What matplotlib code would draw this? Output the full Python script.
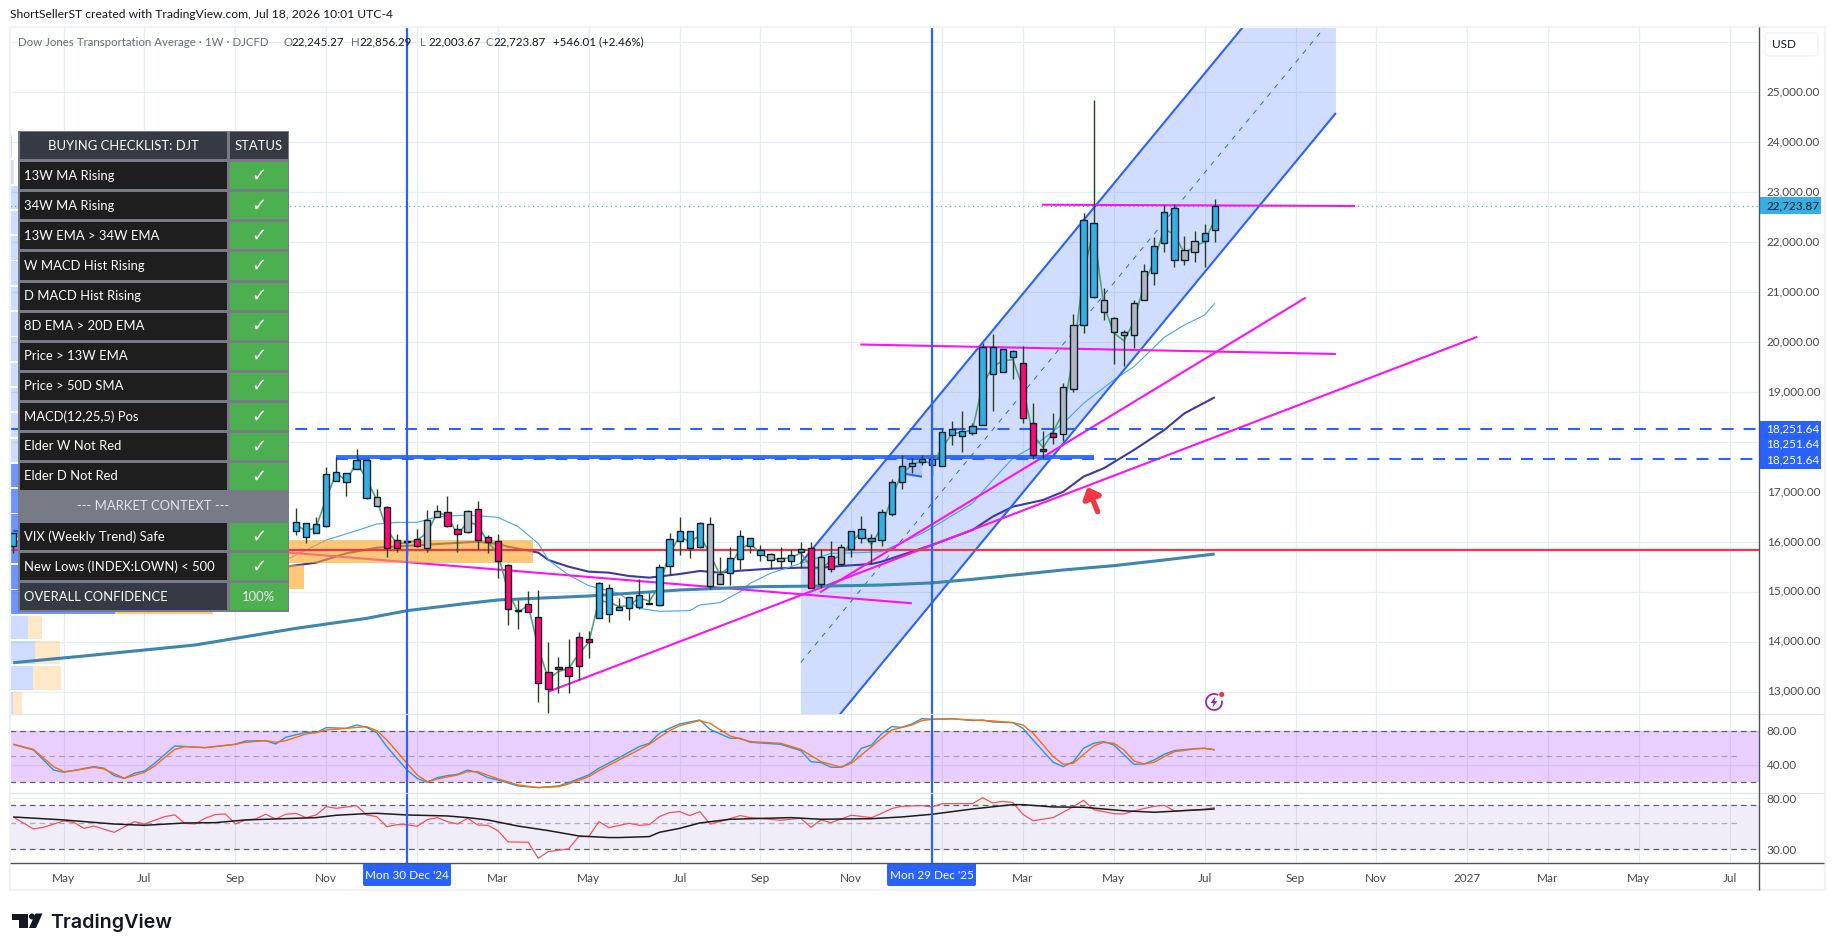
import matplotlib
matplotlib.use("Agg")
import matplotlib.pyplot as plt
from matplotlib.patches import Rectangle, Circle, Polygon, FancyBboxPatch, Arc
from matplotlib.ticker import NullFormatter, NullLocator
from matplotlib.transforms import ScaledTranslation

plt.rcParams["font.family"] = ["Lato", "DejaVu Sans"]
plt.rcParams["lines.scale_dashes"] = False
plt.rcParams["lines.solid_capstyle"] = "butt"

# weekly candles, week 0 is Mon 30 Dec '24
week = [-39] + list(range(-11, 81))
body_top = [16172,
            16392, 16372, 16352, 17353, 17406, 17373, 17633, 17633, 16893, 16692, 16032,
            16020, 16052, 16432, 16612, 16592, 16252, 16612, 16652, 16105, 16012,
            15532, 14630, 14751, 14491, 13404, 13504, 13504, 14091, 14051, 15172,
            15072, 14691, 14891, 14931, 14776, 15492, 16052, 16213, 16213, 16373,
            16353, 15352, 15672, 16112, 16072, 15832, 15752, 15672, 15732, 15852,
            15872, 15692, 15712, 15892, 16213, 16253, 16072, 16593, 17193, 17514,
            17574, 17654, 17654, 18194, 18254, 18214, 18314, 19896, 19896, 19856,
            19816, 19575, 18374, 17854, 18174, 19095, 20336, 22437, 22377, 20836,
            20476, 20195, 20776, 21416, 21917, 22597, 22677, 21837, 22017, 22177, 22724]
body_bot = [15925,
            16212, 16105, 16172, 16325, 17226, 17193, 17453, 16886, 16712, 15885, 15872,
            16005, 15918, 15872, 16492, 16312, 16152, 16192, 16032, 15992, 15611,
            14651, 14620, 14591, 13170, 13050, 13450, 13324, 13510, 14004, 14471,
            14551, 14631, 14671, 14691, 14766, 14731, 15512, 16012, 15872, 15892,
            15112, 15152, 15372, 15652, 15912, 15732, 15632, 15612, 15612, 15792,
            15072, 15152, 15452, 15552, 15852, 16072, 16012, 16032, 16553, 17193,
            17514, 17594, 17534, 17514, 18134, 18114, 18174, 18334, 19355, 19395,
            19695, 18474, 17734, 17814, 18094, 18154, 19055, 20336, 20896, 20596,
            20195, 20135, 20135, 20836, 21376, 21977, 21637, 21637, 21797, 22017, 22245]
wick_hi = [16172,
           16672, 16372, 16506, 17506, 17693, 17373, 17853, 17633, 17059, 16719, 16159,
           16159, 16259, 16632, 16739, 16919, 16359, 16632, 16812, 16139, 16159,
           15552, 14838, 15018, 15038, 14004, 13691, 14051, 14191, 14218, 15192,
           15158, 14871, 14905, 15252, 14972, 15552, 16173, 16493, 16213, 16393,
           16493, 15692, 15892, 16233, 16072, 15932, 15772, 15892, 15852, 15992,
           15992, 15852, 16012, 15952, 16213, 16513, 16153, 16653, 17253, 17734,
           17674, 17734, 17734, 18274, 18414, 18615, 18374, 19976, 20156, 19856,
           19836, 19916, 18775, 18214, 18575, 19175, 20556, 22584, 24846, 21076,
           20509, 20242, 20843, 21563, 22097, 22737, 22758, 22117, 22217, 22357, 22856]
wick_lo = [15772,
           16139, 15985, 16172, 16292, 17226, 16926, 17453, 16859, 16712, 15705, 15805,
           15738, 15905, 15805, 16492, 16292, 15805, 16172, 15858, 15772, 15271,
           14338, 14258, 14591, 12803, 12570, 12983, 12983, 13237, 13684, 14471,
           14391, 14631, 14438, 14651, 14751, 14718, 15332, 15746, 15685, 15872,
           15058, 15152, 15132, 15459, 15772, 15612, 15452, 15472, 15532, 15472,
           15072, 15072, 15392, 15532, 15692, 15972, 15552, 15912, 16513, 17053,
           17373, 17534, 17340, 17514, 17934, 17794, 18134, 18334, 18628, 19395,
           19255, 18374, 17654, 17674, 17954, 18014, 18995, 20175, 20876, 20442,
           19562, 19522, 19889, 20836, 21136, 21797, 21497, 21537, 21597, 21497, 22004]
candle_kind = ("b" + "bbbbbbbb" + "g" + "pppp" + "gg" + "pp" + "g" + "ppp" + "ppppppppp"
               + "bbbbbbbbbbb" + "gg" + "bbbb" + "gg" + "bb" + "pgpg" + "bbbbbbbbbbbbbbbbb"
               + "pppp" + "gg" + "bb" + "ggggg" + "bbb" + "gg" + "bb")
price_line = [16010,
              16354, 16208, 16300, 16869, 17388, 17216, 17598, 17253, 16844, 16250, 15967,
              15980, 16034, 16185, 16584, 16529, 16142, 16402, 16338, 16002, 15763,
              15018, 14587, 14738, 13875, 13257, 13407, 13465, 13757, 13989, 14826,
              14793, 14706, 14726, 14881, 14815, 15123, 15767, 16116, 15996, 16132,
              15754, 15337, 15517, 15864, 15957, 15777, 15652, 15662, 15682, 15777,
              15502, 15442, 15642, 15732, 15992, 16202, 15947, 16297, 16878, 17373,
              17534, 17629, 17565, 17873, 18184, 18184, 18249, 19135, 19509, 19626,
              19651, 19085, 18134, 17889, 18199, 18610, 19736, 21383, 22249, 20738,
              20186, 20024, 20411, 21163, 21632, 22278, 22142, 21782, 21907, 22012, 22457]

ma_thin_w = [-12, -8, -5, -3, -1, 1, 3, 6, 9, 11, 13, 14, 16, 18, 21, 23, 25, 28, 29, 31, 33, 34, 36, 39, 42, 45,
             47, 51, 52, 56, 58, 60, 62, 65, 67, 70, 72, 75, 77, 79, 80]
ma_thin = [15638, 16038, 16225, 16359, 16392, 16392, 16506, 16539, 16493, 16306, 15972, 15639, 15338, 15125, 14971,
           14671, 14611, 14625, 14738, 14785, 15005, 15172, 15372, 15572, 15772, 15786,
           15806, 16172, 16285, 16773, 17240, 17674, 17907, 18374, 18775, 19242, 19509, 20096, 20343, 20543, 20776]
ma_mid_w = [-39, -12, -9, -6, -3, 3, 7, 9, 10, 13, 14, 16, 18, 20, 22, 24, 27, 29, 31, 33, 36, 39, 41, 43, 46, 47,
            50, 52, 56, 58, 60, 63, 65, 67, 69, 72, 75, 77, 80]
ma_mid = [16226, 15505, 15585, 15772, 15885, 15958, 16005, 15959, 15906, 15786, 15639, 15505, 15405, 15385, 15318,
          15285, 15358, 15419, 15385, 15425, 15465, 15485, 15485, 15519, 15559, 15605,
          15805, 15940, 16239, 16506, 16706, 16840, 17007, 17307, 17474, 17841, 18241, 18575, 18895]
ma_long_w = [-39, -32, -26, -21, -17, -11, -4, 0, 6, 9, 18, 27, 35, 44, 47, 52, 56, 65, 70, 75, 80]
ma_long = [13583, 13717, 13837, 13937, 14070, 14270, 14471, 14624, 14771, 14838, 14918, 15038, 15105, 15125, 15138,
           15180, 15252, 15439, 15525, 15639, 15759]

# volume profile rows, bottom up: low price of the first row, row size, up and down volume
vp_low = 12535
vp_step = 506.4
vp_up = [0.3, 2.3, 2.5, 1.8, 10.4, 16, 22, 15, 9, 6, 3, 3, 3, 3, 3, 3, 3, 3, 3, 3, 3, 0.3, 0.16, 0.0]
vp_down = [0.9, 2.8, 2.5, 1.4, 9.7, 13.1, 29.8, 10, 7, 5, 2, 2, 2, 2, 2, 2, 2, 2, 2, 2, 2, 0.1, 0.0, 0.1]
vp_value_area = [4, 5, 6, 7, 8, 9]

# stochastic pane
stoch_k_w = [-39, -37, -35, -34, -31, -30, -29, -28, -27, -26, -25, -23, -20, -17, -16, -14, -13, -12, -10, -9, -8,
             -6, -5, -4, -3, -2, 0, 1, 2, 3, 4, 5, 6, 7, 8, 9, 11, 13, 15, 16, 18, 19, 21, 23, 24, 25, 26, 27, 29,
             30, 32, 33, 34, 37, 39, 40, 41, 42, 43, 44, 45, 46, 47, 48, 49, 50, 51, 52, 54, 56, 57, 58, 60, 61,
             62, 64, 65, 66, 67, 68, 69, 70, 72, 73, 74, 75, 76, 78, 79, 80]
stoch_k = [64.3, 57.7, 34.1, 31.4, 38.1, 36.1, 27.5, 24.3, 30.2, 33, 42, 62.4, 60.4, 64.3, 68.2, 68.6, 64.7, 72.6, 78.4,
           78, 83.9, 83.1, 87, 84.3, 78, 61.6, 34.1, 24.3, 19.6, 25.1, 27.5, 29, 34.1, 31, 25.1, 22.4, 15.3, 13.4, 15.3,
           19.2, 28.3, 36.1, 48.6, 61.6, 65.5, 77.3, 83.1, 88.2, 92.9, 82, 71.4, 71.4, 66.7, 64.3, 56.9, 43.9, 42.8,
           37.3, 37.3, 43.9, 59.6, 63.5, 76.5, 85.1, 84.3, 88.2, 94.5, 93.7, 94.5, 92.2, 92.9, 90.6, 89.8, 83.1,
           69.4, 43.2, 38.1, 43.9, 59.6, 65.5, 67.5, 63.5, 40.8, 41.2, 45.9, 52.6, 56.9, 59.2, 59.6, 57.7]
stoch_d_w = [-39, -37, -35, -34, -33, -31, -30, -28, -26, -25, -23, -22, -20, -17, -16, -14, -13, -12, -10, -9, -8, -6,
             -4, -3, -2, 0, 1, 2, 3, 5, 6, 7, 9, 11, 13, 15, 16, 18, 19, 21, 24, 25, 26, 27, 29, 30, 32, 34, 37, 39,
             41, 43, 44, 46, 48, 50, 51, 52, 54, 56, 58, 60, 61, 62, 64, 65, 66, 68, 69, 70, 71, 72, 73, 74, 75, 76,
             78, 79, 80]
stoch_d = [64.3, 58.4, 38, 32.2, 33.4, 37.3, 35.3, 24.3, 31.4, 38.8, 58.4, 61.6, 60.4, 64.3, 66.7, 68.6, 66.7, 68.6,
           76.5, 78, 81.2, 83.1, 85.1, 80.4, 69.4, 42, 28.3, 20.4, 23.6, 28.3, 32.2, 32.2, 23.6, 16.5, 13.4, 14.5, 17.7,
           26.3, 33.4, 45.9, 64.3, 72.6, 80.4, 86.3, 92.2, 89, 74.1, 67.5, 65.5, 58.4, 43.9, 37.3, 42, 61.6, 81.2, 87,
           92.2, 93.7, 94.1, 92.9, 91.8, 89.8, 87, 77.3, 49.8, 40.8, 42, 62.4, 66.7, 65.5, 57.7, 44.7, 41.2, 43.2,
           49.8, 55.7, 58.8, 59.6, 58]

# RSI pane
rsi_w = [-39, -37, -36, -34, -33, -32, -31, -29, -27, -26, -24, -23, -22, -21, -20, -19, -18, -17, -16, -15, -14, -13,
         -12, -11, -10, -9, -8, -7, -5, -4, -3, -2, -1, 0, 1, 2, 3, 4, 5, 6, 7, 8, 9, 10, 12, 13, 14, 16, 17, 18, 19,
         20, 21, 22, 23, 24, 25, 26, 27, 28, 29, 30, 31, 33, 34, 37, 39, 40, 41, 42, 44, 46, 47, 48, 49, 51, 52, 53,
         54, 56, 57, 58, 59, 60, 61, 62, 64, 66, 67, 68, 70, 71, 72, 74, 75, 76, 79, 80]
rsi = [55.9, 44.4, 45.8, 51.8, 50.4, 44.9, 46.9, 41.6, 51.1, 48.8, 56.3, 58.1, 49.5, 48.8, 54.5, 58.5, 59.3, 48.8, 52.8,
       53.8, 58.9, 53.8, 58.9, 60, 55.2, 58.1, 68.2, 66.1, 69.6, 58.1, 56.3, 46.4, 48.2, 48.2, 46.7, 53.1, 55.2, 51.1,
       48.8, 54.5, 47.9, 47.6, 43, 34.6, 34.4, 25.2, 28.7, 30.2, 38.3, 38.3, 51.1, 45.5, 47.5, 49.5, 47.6, 48.2, 56.3,
       60.8, 62, 57.4, 62, 48.8, 51.1, 57.4, 55.2, 52.5, 54.5, 45.8, 52.8, 50.1, 57.8, 55.2, 60, 65.7, 68.7, 69.6, 67.8,
       72.3, 72.3, 72.3, 81.1, 73.2, 75.6, 73.8, 58.9, 52, 55.2, 68.2, 77.1, 64.4, 59.6, 59.3, 62.8, 68.7, 70, 62.8,
       64.8, 67]
rsi_ma_w = [-39, -34, -29, -26, -22, -19, -16, -9, -7, -4, -3, 0, 4, 6, 8, 11, 14, 17, 20, 21, 24, 25, 27, 29, 32, 38,
            41, 46, 49, 52, 56, 60, 61, 64, 67, 71, 74, 80]
rsi_ma = [55.9, 52.8, 48.8, 47.6, 49.8, 50.1, 52.8, 55.2, 57.8, 59.6, 60, 58.1, 57, 55.2, 52.8, 46.9, 43, 38.8, 37.6,
          37.6, 38.3, 41.6, 44.9, 49.8, 53.5, 55.2, 53.5, 54.1, 55.9, 58.9, 65.2, 70.9, 70.9, 67.8, 67.4, 63, 61.2, 65.2]

price_ticks = [13000, 14000, 15000, 16000, 17000, 18000, 19000, 20000, 21000, 22000, 23000, 24000, 25000, 26000]
price_labels = ["13,000.00", "14,000.00", "15,000.00", "16,000.00", "17,000.00", "18,000.00", "19,000.00",
                "20,000.00", "21,000.00", "22,000.00", "23,000.00", "24,000.00", "25,000.00", ""]
month_weeks = [-34, -26, -17, -8, 1, 9, 18, 27, 35, 44, 53, 61, 70, 79, 88, 96, 105, 113, 122, 131]
month_labels = ["May", "Jul", "Sep", "Nov", "", "Mar", "May", "Jul", "Sep", "Nov", "", "Mar", "May", "Jul",
                "Sep", "Nov", "2027", "Mar", "May", "Jul"]
marker_weeks = [0, 52]

last_close = 22723.87
red_level = 15838
dash_high = 18261
dash_low = 17660
base_level = 17693

# drawing tools: (week, price) end points
channel_upper = [(39, 15578), (92, 28564)]
channel_lower = [(39, 11600), (92, 24586)]
channel_mid = [(39, 13589), (90.9, 26307)]
magenta_lines = [
    [(62.9, 22750), (93.9, 22724)],
    [(44.9, 19952), (92, 19762)],
    [(14, 13002), (106, 20105)],
    [(40.9, 14992), (89, 20889)],
    [(-12, 15793), (50, 14772)],
]
base_line = [(-7, base_level), (68, base_level)]
wedge = [(49, 17656), (51, 17656), (51, 17306), (49, 17374)]
arrow_tail = (68.4, 16605)
arrow_tip = (67.4, 17100)

checklist = ["13W MA Rising", "34W MA Rising", "13W EMA > 34W EMA", "W MACD Hist Rising", "D MACD Hist Rising",
             "8D EMA > 20D EMA", "Price > 13W EMA", "Price > 50D SMA", "MACD(12,25,5) Pos", "Elder W Not Red",
             "Elder D Not Red", "--- MARKET CONTEXT ---", "VIX (Weekly Trend) Safe", "New Lows (INDEX:LOWN) < 500",
             "OVERALL CONFIDENCE"]

W, H = 1835, 951
fig = plt.figure(figsize=(W / 100, H / 100), dpi=100, facecolor="white")


def pane(top, bottom):
    return fig.add_axes([10 / W, 1 - bottom / H, (1759 - 10) / W, (bottom - top) / H])


GRID = "#e6edf3"
TICK = "#4a4a4a"
BLUE = "#2962ff"
MAGENTA = "#fb12f5"

ax = pane(27, 714.3)
ax2 = pane(714.3, 793.3)
ax3 = pane(793.3, 863.3)
for a in (ax, ax2, ax3):
    a.set_xlim(-39.32, 133.9)
    a.set_xticks(month_weeks)
    a.set_xticklabels([])
    a.grid(True, color=GRID, lw=0.9)
    a.set_axisbelow(True)
    a.tick_params(length=0, labelsize=8.5, labelcolor=TICK, pad=5.5)
    a.yaxis.tick_right()
    for s in a.spines.values():
        s.set_visible(False)
    for w in marker_weeks:
        a.axvline(w, color=BLUE, lw=1.6, zorder=6)

# main pane
ax.set_ylim(12550, 26307)
ax.set_yticks(price_ticks)
ax.set_yticklabels(price_labels)
lift = ScaledTranslation(0, 1.5 / 100, fig.dpi_scale_trans)
for lab in ax.get_yticklabels():
    lab.set_transform(lab.get_transform() + lift)

# volume profile, left edge
for n, (up, down) in enumerate(zip(vp_up, vp_down)):
    low = vp_low + n * vp_step
    strong = n in vp_value_area
    ax.barh(low, up, height=vp_step * 0.93, left=-39.32, align="edge",
            color=BLUE, alpha=0.68 if strong else 0.22, zorder=3, lw=0)
    ax.barh(low, down, height=vp_step * 0.93, left=-39.32 + up, align="edge",
            color="#ffa726", alpha=0.62 if strong else 0.25, zorder=3, lw=0)

# channel
ax.add_patch(Polygon([channel_upper[0], channel_upper[1], channel_lower[1], channel_lower[0]],
                     closed=True, facecolor=BLUE, alpha=0.21, lw=0, zorder=1))
ax.plot(*zip(*channel_upper), color=BLUE, lw=1.5, zorder=2.2)
ax.plot(*zip(*channel_lower), color=BLUE, lw=1.5, zorder=2.2)
ax.plot(*zip(*channel_mid), color=BLUE, lw=0.7, dashes=(3.6, 4.4), zorder=2.2)

# moving averages
ax.plot(ma_long_w, ma_long, color="#3d86ad", lw=2.2, zorder=3.5)
ax.plot(ma_mid_w, ma_mid, color="#3f3a9e", lw=1.5, zorder=2)
ax.plot(ma_thin_w, ma_thin, color="#42a5f5", lw=0.8, zorder=2)

for seg in magenta_lines:
    ax.plot(*zip(*seg), color=MAGENTA, lw=1.5, zorder=2.4)

ax.add_patch(Polygon(wedge, closed=True, facecolor=BLUE, alpha=0.18, lw=0, zorder=2.5))
ax.plot([wedge[3][0], wedge[2][0]], [wedge[3][1], wedge[2][1]], color=BLUE, lw=1.5, zorder=2.5)

# levels
ax.axhline(red_level, color="#f23645", lw=1.6, zorder=4)
ax.axhline(dash_high, color=BLUE, lw=1.5, dashes=(8.6, 7.2), zorder=4)
ax.plot([base_line[0][0], 133.9], [dash_low, dash_low], color=BLUE, lw=1.5, dashes=(8.6, 7.2), zorder=4)
ax.plot(*zip(*base_line), color=BLUE, lw=2.8, alpha=0.92, zorder=4)
ax.axhline(last_close, color="#35b0e6", lw=0.9, dashes=(0.8, 2.5), zorder=1.5)

ax.annotate("", xy=arrow_tip, xytext=arrow_tail, zorder=7,
            arrowprops=dict(arrowstyle="-|>,head_length=0.6,head_width=0.55", color="#f23645", lw=3.8,
                            shrinkA=0, shrinkB=0))

# candles
kind_color = {"b": "#35aee2", "p": "#ff0a72", "g": "#b2b5be"}
ax.plot(week[1:], price_line[1:], color="#4f9f72", lw=1.2, alpha=0.95, zorder=4.5)
ax.vlines(week, wick_lo, wick_hi, color="#2a3f1e", lw=1.0, zorder=5)
ax.bar(week, [t - b for t, b in zip(body_top, body_bot)], bottom=body_bot, width=0.62,
       color=[kind_color[k] for k in candle_kind], edgecolor="#0c1f2a", lw=1.0, zorder=5.5)

# stochastic pane
ax2.set_ylim(6.7, 99.6)
ax2.set_yticks([40, 80])
ax2.set_yticklabels(["40.00", "80.00"])
ax2.axhspan(20, 80, color="#9c27ff", alpha=0.22, lw=0, zorder=1)
ax2.axhline(80, color="#5d606b", lw=0.9, dashes=(4, 3), zorder=2)
ax2.axhline(20, color="#5d606b", lw=0.9, dashes=(4, 3), zorder=2)
ax2.plot([-39.32, 132], [50, 50], color="#787b86", alpha=0.55, lw=0.9, dashes=(4, 3), zorder=2)
ax2.plot(stoch_k_w, stoch_k, color="#2196f3", lw=1.0, zorder=3)
ax2.plot(stoch_d_w, stoch_d, color="#ff6d00", lw=1.0, zorder=3)

# RSI pane
ax3.set_yscale("log")
ax3.set_ylim(22.9, 88.2)
ax3.yaxis.set_minor_locator(NullLocator())
ax3.yaxis.set_minor_formatter(NullFormatter())
ax3.set_yticks([30, 80])
ax3.set_yticklabels(["30.00", "80.00"])
ax3.axhspan(30, 70, color="#7e57c2", alpha=0.1, lw=0, zorder=1)
ax3.axhline(70, color="#5d606b", lw=0.9, dashes=(4, 3), zorder=2)
ax3.axhline(30, color="#5d606b", lw=0.9, dashes=(4, 3), zorder=2)
ax3.plot([-39.32, 132], [50, 50], color="#787b86", alpha=0.55, lw=0.9, dashes=(4, 3), zorder=2)
ax3.fill_between(rsi_w, rsi, 70, where=[v > 70 for v in rsi], interpolate=True, color="#4caf50", alpha=0.15, lw=0)
ax3.plot(rsi_w, rsi, color="#f7525f", lw=0.9, zorder=3)
ax3.plot(rsi_ma_w, rsi_ma, color="#1c1c1c", lw=1.1, zorder=3)
ax3.set_xticklabels(month_labels)
ax3.tick_params(axis="x", pad=7)

# everything that sits on the chart in screen pixels
ov = fig.add_axes([0, 0, 1, 1], facecolor="none", zorder=20)
ov.set_xlim(0, W)
ov.set_ylim(H, 0)
ov.axis("off")

ov.add_patch(Rectangle((10, 27), 1815, 863, fill=False, edgecolor="#f0f3f5", lw=1.6))
ov.plot([10, 1824], [714.3, 714.3], color="#e0e3eb", lw=0.9)
ov.plot([10, 1824], [793.3, 793.3], color="#e0e3eb", lw=0.9)
ov.plot([10, 1824], [863.3, 863.3], color="#50535e", lw=1.0)
ov.plot([1759, 1759], [27, 890], color="#50535e", lw=1.0)

ov.text(10, 15, "ShortSellerST created with TradingView.com, Jul 18, 2026 10:01 UTC-4",
        fontsize=8.7, color="#131722", va="center")
GRAY = "#6a6d78"
DARK = "#131722"
ov.text(18, 42, "Dow Jones Transportation Average \u00b7 1W \u00b7 DJCFD", fontsize=8.3, color=GRAY, va="center")
for x, letter, val in [(283, "O", "22,245.27"), (351, "H", "22,856.29"), (420, "L", "22,003.67"), (485, "C", "22,723.87")]:
    ov.text(x, 42, letter, fontsize=8.3, color=GRAY, va="center")
    ov.text(x + 8, 42, val, fontsize=8.3, color=DARK, va="center")
ov.text(553, 42, "+546.01 (+2.46%)", fontsize=8.3, color=DARK, va="center")

# checklist table
tx0, tx1, tx2 = 18, 228, 289
ty = 130.7
rh = 30.06
BORDER = "#787b86"
ov.add_patch(Rectangle((tx0, ty), tx2 - tx0, rh * 16, facecolor=BORDER, lw=0))


def cell(x0, x1, y0, color):
    ov.add_patch(Rectangle((x0 + 1.5, y0 + 1.5), x1 - x0 - 3, rh - 3, facecolor=color, lw=0))


cell(tx0, tx1, ty, "#363a45")
cell(tx1, tx2, ty, "#363a45")
ov.text((tx0 + tx1) / 2, ty + rh / 2, "BUYING CHECKLIST: DJT", color="white", ha="center", va="center", fontsize=9.4)
ov.text((tx1 + tx2) / 2, ty + rh / 2, "STATUS", color="white", ha="center", va="center", fontsize=9.4)
for n, label in enumerate(checklist):
    y0 = ty + rh * (n + 1)
    if label.startswith("---"):
        ov.text((tx0 + tx2) / 2, y0 + rh / 2, label, color="#e0e3eb", ha="center", va="center", fontsize=9.4)
        continue
    last = label == "OVERALL CONFIDENCE"
    cell(tx0, tx1, y0, "#363a45" if last else "#1e1e1e")
    cell(tx1, tx2, y0, "#4caf50")
    ov.text(tx0 + 6, y0 + rh / 2, label, color="white", ha="left", va="center", fontsize=9.4)
    if last:
        ov.text((tx1 + tx2) / 2, y0 + rh / 2, "100%", color="#eef0f3", ha="center", va="center", fontsize=9.4)
    else:
        ov.text((tx1 + tx2) / 2, y0 + rh / 2, "\u2713", color="white", ha="center", va="center",
                fontsize=13, family="DejaVu Sans", fontweight="bold")

# right axis tags
ov.add_patch(FancyBboxPatch((1765, 33), 53, 23, boxstyle="round,pad=0,rounding_size=3", facecolor="white",
                            edgecolor="#f0f3fa", lw=1))
ov.text(1772, 44.5, "USD", fontsize=8.5, color=DARK, va="center")
ov.add_patch(Rectangle((1760, 197), 61, 17, facecolor="#35b0e6", lw=0))
ov.text(1766.5, 205.5, "22,723.87", fontsize=8.5, color=DARK, va="center")
ov.add_patch(Rectangle((1760, 421), 61, 48, facecolor=BLUE, lw=0))
for y in (429, 444, 460):
    ov.text(1766.5, y, "18,251.64", fontsize=8.5, color="white", va="center")

# time axis tags
for x0, x1, label in [(363, 451, "Mon 30 Dec '24"), (887, 976, "Mon 29 Dec '25")]:
    ov.add_patch(FancyBboxPatch((x0, 863), x1 - x0, 23, boxstyle="round,pad=0,rounding_size=2", facecolor=BLUE, lw=0))
    ov.text((x0 + x1) / 2, 875.5, label, fontsize=8.5, color="white", ha="center", va="center")

# lightning badge
ov.add_patch(Arc((1214, 702), 16, 16, theta1=-10, theta2=300, color="#9c27b0", lw=1.3))
ov.add_patch(Polygon([(1215.5, 696.5), (1210.5, 703), (1213.5, 703), (1212.5, 707.5), (1217.5, 701), (1214.5, 701)],
                     closed=True, facecolor="#9c27b0", lw=0))
ov.add_patch(Circle((1221.7, 694.5), 2.6, facecolor="#f23645", lw=0))

# logo
ov.add_patch(Polygon([(12, 913.5), (28, 913.5), (28, 928), (19, 928), (19, 919.5), (12, 919.5)], closed=True,
                     facecolor="#131722", lw=0))
ov.add_patch(Circle((32, 916.5), 3, facecolor="#131722", lw=0))
ov.add_patch(Polygon([(35.5, 913.5), (42.5, 913.5), (36, 928), (29, 928)], closed=True, facecolor="#131722", lw=0))
ov.text(50, 928, "TradingView", fontsize=14.2, color="#131722", va="baseline", family="Inter", fontweight="semibold")

fig.savefig("out.png", dpi=100)
